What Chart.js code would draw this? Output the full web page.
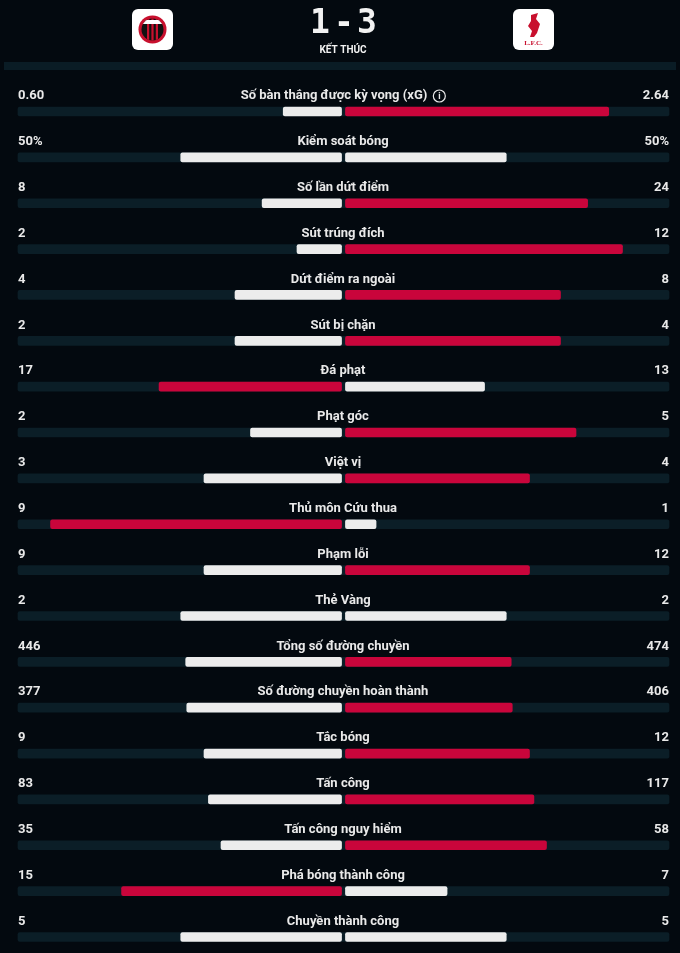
<!DOCTYPE html>
<html>
<head>
<meta charset="utf-8">
<script src="https://cdn.jsdelivr.net/npm/chart.js@4.4.1/dist/chart.umd.min.js"></script>
<style>
  html, body { margin: 0; padding: 0; background: #03090f; }
  #wrap { width: 680px; height: 953px; }
</style>
</head>
<body>
<div id="wrap"><canvas id="chart" width="680" height="953"></canvas></div>
<script>
// stats du match (gauche = Milan, droite = Liverpool)
const statNames = [
  'Số bàn thắng được kỳ vọng (xG)', 'Kiểm soát bóng', 'Số lần dứt điểm', 'Sút trúng đích',
  'Dứt điểm ra ngoài', 'Sút bị chặn', 'Đá phạt', 'Phạt góc', 'Việt vị', 'Thủ môn Cứu thua',
  'Phạm lỗi', 'Thẻ Vàng', 'Tổng số đường chuyền', 'Số đường chuyền hoàn thành', 'Tắc bóng',
  'Tấn công', 'Tấn công nguy hiểm', 'Phá bóng thành công', 'Chuyền thành công'
];
const homeText = ['0.60', '50%', '8', '2', '4', '2', '17', '2', '3', '9', '9', '2', '446', '377', '9', '83', '35', '15', '5'];
const awayText = ['2.64', '50%', '24', '12', '8', '4', '13', '5', '4', '1', '12', '2', '474', '406', '12', '117', '58', '7', '5'];
const homeScore = '1';
const awayScore = '3';
const statusText = 'KẾT THÚC';

const homeValues = homeText.map(t => parseFloat(t));
const awayValues = awayText.map(t => parseFloat(t));

const RED = '#c9053b';
const WHITE = '#ececec';
const TRACK = '#0b1e27';
const BG = '#03090f';
const GAP = 0.006; // petit espace au centre

// part de chaque equipe (0..1)
const homeShare = homeValues.map((h, i) => h / (h + awayValues[i]));
const awayShare = awayValues.map((a, i) => a / (homeValues[i] + a));

const homeColors = homeValues.map((h, i) => h > awayValues[i] ? RED : WHITE);
const awayColors = awayValues.map((a, i) => a > homeValues[i] ? RED : WHITE);

function roundRect(c, x, y, w, h, r) {
  c.beginPath();
  c.moveTo(x + r, y);
  c.arcTo(x + w, y, x + w, y + h, r);
  c.arcTo(x + w, y + h, x, y + h, r);
  c.arcTo(x, y + h, x, y, r);
  c.arcTo(x, y, x + w, y, r);
  c.closePath();
}

// entete : logos + score
const headerPlugin = {
  id: 'header',
  beforeDraw(chart) {
    const c = chart.ctx;
    c.save();
    c.fillStyle = BG;
    c.fillRect(0, 0, chart.width, chart.height);
    c.fillStyle = '#0a1c25';
    c.fillRect(4, 62, 672, 8);

    // logo Milan
    c.fillStyle = '#ffffff';
    roundRect(c, 132, 9, 41, 41, 6);
    c.fill();
    c.save();
    c.beginPath();
    c.arc(152.5, 29.5, 14, 0, Math.PI * 2);
    c.fillStyle = '#c8102e';
    c.fill();
    c.beginPath();
    c.arc(152.5, 29.5, 11, 0, Math.PI * 2);
    c.fillStyle = '#111';
    c.fill();
    c.clip();
    c.fillStyle = '#c8102e';
    for (let k = -2; k <= 2; k += 2) c.fillRect(152.5 + k * 2.2 - 1.1, 18, 2.2, 23);
    c.fillStyle = '#fff';
    c.fillRect(141, 20, 23, 4);
    c.restore();

    // logo Liverpool
    c.fillStyle = '#ffffff';
    roundRect(c, 513, 9, 41, 41, 6);
    c.fill();
    c.fillStyle = '#c8102e';
    c.beginPath();
    c.moveTo(531, 15); c.lineTo(538, 13); c.lineTo(536, 19); c.lineTo(540, 24);
    c.lineTo(537, 33); c.lineTo(534, 37); c.lineTo(530, 37); c.lineTo(532, 31);
    c.lineTo(528, 26); c.lineTo(531, 21); c.closePath();
    c.fill();
    c.font = 'bold 7px "Liberation Serif"';
    c.textAlign = 'center';
    c.textBaseline = 'middle';
    c.fillText('L.F.C.', 533.5, 43);

    // score
    c.fillStyle = '#f2f2f2';
    c.font = 'bold 33px "DejaVu Sans Mono"';
    c.textBaseline = 'alphabetic';
    c.fillText(homeScore, 320, 33);
    c.fillText('-', 344, 33);
    c.fillText(awayScore, 367, 33);
    c.font = 'bold 10px Roboto';
    c.textBaseline = 'middle';
    c.fillText(statusText, 343, 50);
    c.restore();
  }
};

// textes des stats
const labelPlugin = {
  id: 'labels',
  afterDatasetsDraw(chart) {
    const c = chart.ctx;
    const y = chart.scales.y;
    const area = chart.chartArea;
    c.save();
    c.fillStyle = '#e9e9e9';
    c.font = 'bold 13px Roboto';
    c.textBaseline = 'middle';
    statNames.forEach((name, i) => {
      const py = y.getPixelForValue(i) - 15.5;
      c.textAlign = 'left';
      c.fillText(homeText[i], area.left, py);
      c.textAlign = 'right';
      c.fillText(awayText[i], area.right, py);
      c.textAlign = 'center';
      c.fillText(name, 334 + (i === 0 ? 0 : 9), py);
      if (i === 0) {
        const w = c.measureText(name).width;
        const cx = 334 + w / 2 + 12;
        c.beginPath();
        c.strokeStyle = '#e9e9e9';
        c.lineWidth = 1.2;
        c.arc(cx, py, 6, 0, Math.PI * 2);
        c.stroke();
        c.font = 'bold 9px Roboto';
        c.fillText('i', cx, py + 0.5);
        c.font = 'bold 13px Roboto';
      }
    });
    c.restore();
  }
};

const ctx = document.getElementById('chart').getContext('2d');
const chart = new Chart(ctx, {
  type: 'bar',
  data: {
    labels: statNames,
    datasets: [
      {
        label: 'track',
        data: statNames.map(() => [-1, 1]),
        backgroundColor: TRACK,
        borderRadius: 2,
        order: 2
      },
      {
        label: 'home',
        data: homeShare.map(s => [-s, -GAP]),
        backgroundColor: homeColors,
        borderRadius: 2,
        order: 1
      },
      {
        label: 'away',
        data: awayShare.map(s => [GAP, s]),
        backgroundColor: awayColors,
        borderRadius: 2,
        order: 1
      }
    ]
  },
  options: {
    indexAxis: 'y',
    responsive: false,
    animation: false,
    layout: { padding: { left: 18, right: 11, top: 111.5, bottom: 16 } },
    datasets: { bar: { grouped: false, barThickness: 9, borderSkipped: false, clip: false } },
    scales: {
      x: { display: false, min: -1, max: 1 },
      y: { display: false, offset: false }
    },
    plugins: { legend: { display: false }, tooltip: { enabled: false } }
  },
  plugins: [headerPlugin, labelPlugin]
});
</script>
</body>
</html>
